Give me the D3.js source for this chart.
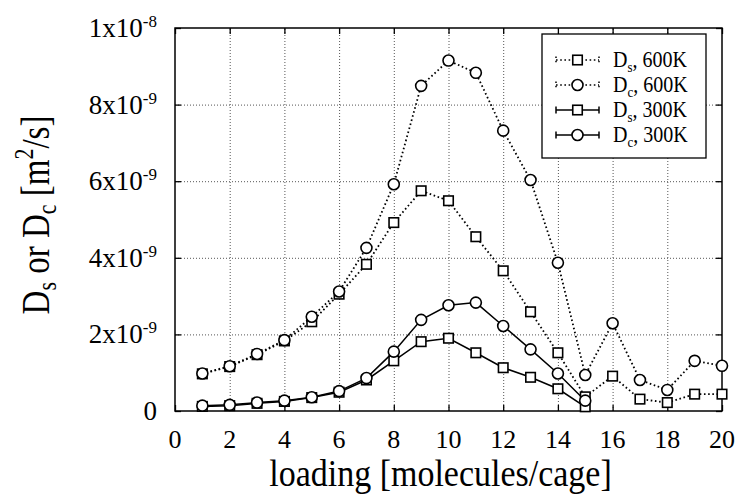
<!DOCTYPE html>
<html>
<head>
<meta charset="utf-8">
<script src="https://cdn.jsdelivr.net/npm/d3@7"></script>
<style>
  html, body { margin: 0; padding: 0; background: #fff; }
  svg { display: block; }
  text { font-family: "Liberation Serif", "Times New Roman", serif; fill: #000; }
</style>
</head>
<body>
<svg id="chart" width="742" height="496"></svg>
<script>
// Loading (molecules per cage) for each temperature
const loading600 = [1, 2, 3, 4, 5, 6, 7, 8, 9, 10, 11, 12, 13, 14, 15, 16, 17, 18, 19, 20];
const loading300 = [1, 2, 3, 4, 5, 6, 7, 8, 9, 10, 11, 12, 13, 14, 15];

// Self (Ds) and corrected (Dc) diffusivities, units of 1e-9 m^2/s
const ds600 = [0.97, 1.16, 1.47, 1.83, 2.33, 3.05, 3.83, 4.92, 5.75, 5.49, 4.55, 3.66, 2.59, 1.52, 0.37, 0.91, 0.31, 0.22, 0.44, 0.44];
const dc600 = [0.98, 1.17, 1.49, 1.85, 2.46, 3.12, 4.26, 5.92, 8.49, 9.15, 8.83, 7.32, 6.03, 3.87, 0.94, 2.29, 0.81, 0.55, 1.31, 1.18];
const ds300 = [0.12, 0.14, 0.20, 0.25, 0.35, 0.49, 0.81, 1.31, 1.81, 1.90, 1.52, 1.13, 0.88, 0.58, 0.11];
const dc300 = [0.14, 0.16, 0.22, 0.27, 0.36, 0.52, 0.86, 1.55, 2.38, 2.76, 2.83, 2.22, 1.61, 0.98, 0.27];

// Axis ticks
const xTicks = [0, 2, 4, 6, 8, 10, 12, 14, 16, 18, 20];
const yTicks = [0, 2e-9, 4e-9, 6e-9, 8e-9, 1e-8];
const yTickMantissa = ["0", "2", "4", "6", "8", "1"];
const yTickExponent = ["", "-9", "-9", "-9", "-9", "-8"];

const seriesNames = ["s", "c", "s", "c"];
const seriesTemps = ["600K", "600K", "300K", "300K"];

const svg = d3.select("#chart");
const M = { left: 175, right: 722, top: 28, bottom: 411 };

const x = d3.scaleLinear().domain([0, 20]).range([M.left, M.right]);
const y = d3.scaleLinear().domain([0, 1e-8]).range([M.bottom, M.top]);

const W = M.right - M.left, H = M.bottom - M.top;

// grid
const grid = svg.append("g").attr("class", "grid");
grid.append("g").attr("transform", `translate(0,${M.bottom})`)
  .call(d3.axisBottom(x).tickValues(xTicks.slice(1, -1)).tickSize(-H).tickFormat(""));
grid.append("g").attr("transform", `translate(${M.left},0)`)
  .call(d3.axisLeft(y).tickValues(yTicks.slice(1, -1)).tickSize(-W).tickFormat(""));
grid.selectAll(".domain").remove();
grid.selectAll("line").attr("stroke", "#555").attr("stroke-width", 1).attr("stroke-dasharray", "1,2");

// inward ticks on all four sides
const tl = 6;
const axes = svg.append("g").attr("class", "axes");
axes.append("g").attr("transform", `translate(0,${M.bottom})`)
  .call(d3.axisBottom(x).tickValues(xTicks).tickSize(-tl).tickFormat(""));
axes.append("g").attr("transform", `translate(0,${M.top})`)
  .call(d3.axisTop(x).tickValues(xTicks).tickSize(-tl).tickFormat(""));
axes.append("g").attr("transform", `translate(${M.left},0)`)
  .call(d3.axisLeft(y).tickValues(yTicks).tickSize(-tl).tickFormat(""));
axes.append("g").attr("transform", `translate(${M.right},0)`)
  .call(d3.axisRight(y).tickValues(yTicks).tickSize(-tl).tickFormat(""));
axes.selectAll(".domain").remove();
axes.selectAll("line").attr("stroke", "#000").attr("stroke-width", 1.3);

svg.append("rect").attr("x", M.left).attr("y", M.top).attr("width", W).attr("height", H)
  .attr("fill", "none").attr("stroke", "#000").attr("stroke-width", 1.5);

// text with optional vertical stretch (tall serif glyphs)
function stretchedText(px, py, size, anchor, rot, sy) {
  const r = rot ? ` rotate(${rot})` : "";
  return svg.append("text")
    .attr("transform", `translate(${px},${py})${r} scale(1,${sy || 1})`)
    .attr("font-size", size)
    .attr("text-anchor", anchor);
}

// x tick labels
xTicks.forEach(v => {
  stretchedText(x(v), 448, 26, "middle").text(v);
});

// y tick labels
yTicks.forEach((v, i) => {
  const t = stretchedText(157, y(v) + 9, 27, "end");
  if (v === 0) { t.text("0"); return; }
  t.append("tspan").text(yTickMantissa[i] + "x10");
  t.append("tspan").attr("font-size", 17).attr("dy", -10).text(yTickExponent[i]);
});

// axis titles
stretchedText((M.left + M.right) / 2 - 8, 486, 34, "middle", 0, 1.12).text("loading [molecules/cage]");
{
  const t = stretchedText(49, 215, 33, "middle", -90, 1.2);
  t.append("tspan").text("D");
  t.append("tspan").attr("font-size", 22).attr("dy", 6).text("s");
  t.append("tspan").attr("dy", -6).text(" or D");
  t.append("tspan").attr("font-size", 22).attr("dy", 6).text("c");
  t.append("tspan").attr("dy", -6).text(" [m");
  t.append("tspan").attr("font-size", 22).attr("dy", -13).text("2");
  t.append("tspan").attr("dy", 13).text("/s]");
}

// series
const series = [
  { xs: loading600, ys: ds600, dotted: true, shape: "square" },
  { xs: loading600, ys: dc600, dotted: true, shape: "circle" },
  { xs: loading300, ys: ds300, dotted: false, shape: "square" },
  { xs: loading300, ys: dc300, dotted: false, shape: "circle" }
];

const line = d3.line().x(d => x(d[0])).y(d => y(d[1] * 1e-9));
const DASH = "1.6,2.6";
const SQ = 9.5, CR = 5.5;

function drawMarker(g, shape, cx, cy) {
  if (shape === "square") {
    g.append("rect").attr("x", cx - SQ / 2).attr("y", cy - SQ / 2).attr("width", SQ).attr("height", SQ)
      .attr("fill", "#fff").attr("stroke", "#000").attr("stroke-width", 1.6);
  } else {
    g.append("circle").attr("cx", cx).attr("cy", cy).attr("r", CR)
      .attr("fill", "#fff").attr("stroke", "#000").attr("stroke-width", 1.6);
  }
}

series.forEach(s => {
  const pts = s.xs.map((v, i) => [v, s.ys[i]]);
  const g = svg.append("g");
  g.append("path").datum(pts).attr("d", line)
    .attr("fill", "none").attr("stroke", "#000").attr("stroke-width", s.dotted ? 1.8 : 1.5)
    .attr("stroke-dasharray", s.dotted ? DASH : null);
  pts.forEach(p => drawMarker(g, s.shape, x(p[0]), y(p[1] * 1e-9)));
});

// legend
const L = { x0: 542, y0: 34, x1: 706, y1: 158 };
svg.append("rect").attr("x", L.x0).attr("y", L.y0).attr("width", L.x1 - L.x0).attr("height", L.y1 - L.y0)
  .attr("fill", "#fff").attr("stroke", "#000").attr("stroke-width", 1.3);
const rowY = [60, 85, 110, 135];
series.forEach((s, i) => {
  const g = svg.append("g");
  const cy = rowY[i], a = 556, b = 599;
  const st = (sel) => sel.attr("stroke", "#000").attr("stroke-width", 1.5)
    .attr("stroke-dasharray", s.dotted ? DASH : null);
  st(g.append("line").attr("x1", a).attr("x2", b).attr("y1", cy).attr("y2", cy));
  st(g.append("line").attr("x1", a).attr("x2", a).attr("y1", cy - 3.5).attr("y2", cy + 3.5));
  st(g.append("line").attr("x1", b).attr("x2", b).attr("y1", cy - 3.5).attr("y2", cy + 3.5));
  drawMarker(g, s.shape, (a + b) / 2, cy);
  const t = stretchedText(613, cy + 7, 20, "start", 0, 1.2);
  t.append("tspan").text("D");
  t.append("tspan").attr("font-size", 13).attr("dy", 4).text(seriesNames[i]);
  t.append("tspan").attr("dy", -4).text(", " + seriesTemps[i]);
});
</script>
</body>
</html>
